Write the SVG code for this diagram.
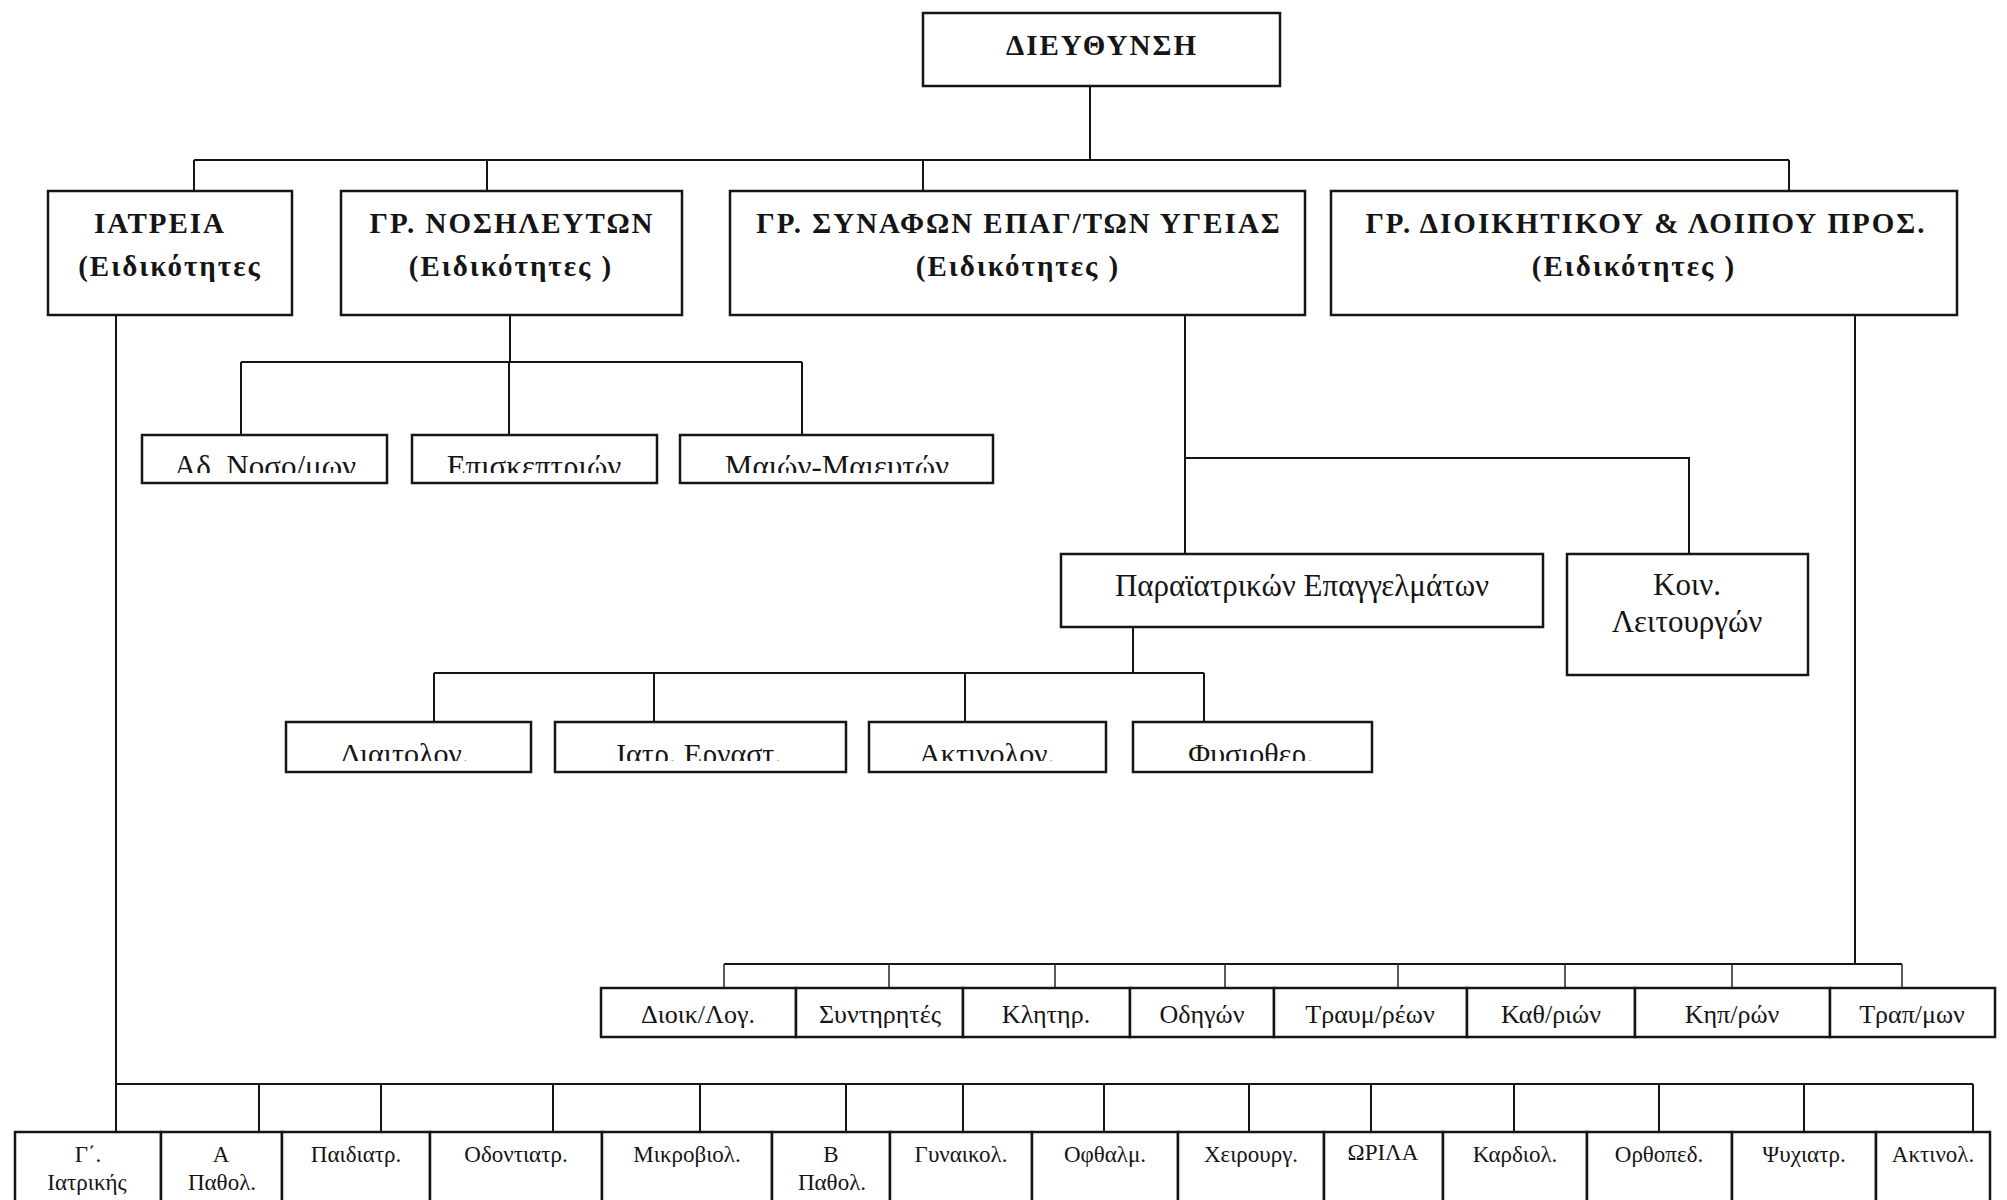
<svg xmlns="http://www.w3.org/2000/svg" width="2007" height="1200" viewBox="0 0 2007 1200">
<style>
.bx{fill:#fff;stroke:#151515;stroke-width:2.5}
.ln{fill:none;stroke:#151515;stroke-width:2}
.thin{fill:none;stroke:#333;stroke-width:1.6}
text{font-family:"Liberation Serif","Times New Roman",serif;fill:#151515;text-anchor:middle}
.hd{font-size:29px;font-weight:bold;letter-spacing:2px}
.t31{font-size:31px}
.t30{font-size:30px}
.t26{font-size:26px}
.t23{font-size:23px}
</style>
<defs>
<clipPath id="clipRow2"><rect x="0" y="400" width="2007" height="73"/></clipPath>
<clipPath id="clipRow3"><rect x="0" y="700" width="2007" height="61"/></clipPath>
</defs>
<rect x="0" y="0" width="2007" height="1200" fill="#fff"/>

<g id="connectors">
<path class="ln" d="M1090 86V160M194 160H1789M194 160V192M487 160V192M923 160V192M1789 160V192"/>
<path class="ln" d="M510 315V362M241 362H802M241 362V435M509 362V435M802 362V435"/>
<path class="ln" d="M1185 315V554M1185 458H1689V554"/>
<path class="ln" d="M1133 627V673M434 673H1204M434 673V722M654 673V722M965 673V722M1204 673V722"/>
<path class="ln" d="M1855 315V964M724 964H1902"/>
<path class="thin" d="M724 964V988M889 964V988M1055 964V988M1225 964V988M1398 964V988M1565 964V988M1732 964V988M1902 964V988"/>
<path class="ln" d="M116 315V1132M116 1084H1973M259 1084V1132M381 1084V1132M553 1084V1132M700 1084V1132M846 1084V1132M963 1084V1132M1104 1084V1132M1249 1084V1132M1371 1084V1132M1514 1084V1132M1659 1084V1132M1804 1084V1132M1973 1084V1132"/>
</g>

<g id="n-dieythynsh"><rect class="bx" x="923" y="13" width="357" height="73"/><text class="hd" x="1102" y="55">ΔΙΕΥΘΥΝΣΗ</text></g>

<g id="n-iatreia"><rect class="bx" x="48" y="191" width="244" height="124"/><text class="hd" x="160" y="233">ΙΑΤΡΕΙΑ</text><text class="hd" x="170" y="276">(Ειδικότητες</text></g>
<g id="n-nosileyton"><rect class="bx" x="341" y="191" width="341" height="124"/><text class="hd" x="512" y="233">ΓΡ. ΝΟΣΗΛΕΥΤΩΝ</text><text class="hd" x="511" y="276">(Ειδικότητες )</text></g>
<g id="n-synafon"><rect class="bx" x="730" y="191" width="575" height="124"/><text class="hd" x="1019" y="233">ΓΡ. ΣΥΝΑΦΩΝ ΕΠΑΓ/ΤΩΝ ΥΓΕΙΑΣ</text><text class="hd" x="1018" y="276">(Ειδικότητες )</text></g>
<g id="n-dioikitikoy"><rect class="bx" x="1331" y="191" width="626" height="124"/><text class="hd" x="1646" y="233">ΓΡ. ΔΙΟΙΚΗΤΙΚΟΥ &amp; ΛΟΙΠΟΥ ΠΡΟΣ.</text><text class="hd" x="1634" y="276">(Ειδικότητες )</text></g>

<g id="n-adnosomon"><rect class="bx" x="142" y="435" width="245" height="48"/><text class="t31" x="265" y="477" clip-path="url(#clipRow2)">Αδ. Νοσο/μων</text></g>
<g id="n-episkeptrion"><rect class="bx" x="412" y="435" width="245" height="48"/><text class="t31" x="534" y="477" clip-path="url(#clipRow2)">Επισκεπτριών</text></g>
<g id="n-maion"><rect class="bx" x="680" y="435" width="313" height="48"/><text class="t31" x="837" y="477" clip-path="url(#clipRow2)">Μαιών-Μαιευτών</text></g>

<g id="n-paraiatrikon"><rect class="bx" x="1061" y="554" width="482" height="73"/><text class="t31" x="1302" y="596">Παραϊατρικών Επαγγελμάτων</text></g>
<g id="n-koin"><rect class="bx" x="1567" y="554" width="241" height="121"/><text class="t31" x="1687" y="595">Κοιν.</text><text class="t31" x="1687" y="632">Λειτουργών</text></g>

<g id="n-diaitolog"><rect class="bx" x="286" y="722" width="245" height="50"/><text class="t30" x="405" y="764" clip-path="url(#clipRow3)">Διαιτολογ.</text></g>
<g id="n-iatrergast"><rect class="bx" x="555" y="722" width="291" height="50"/><text class="t30" x="699" y="764" clip-path="url(#clipRow3)">Ιατρ. Εργαστ.</text></g>
<g id="n-aktinolog"><rect class="bx" x="869" y="722" width="237" height="50"/><text class="t30" x="987" y="764" clip-path="url(#clipRow3)">Ακτινολογ.</text></g>
<g id="n-fysiother"><rect class="bx" x="1133" y="722" width="239" height="50"/><text class="t30" x="1251" y="764" clip-path="url(#clipRow3)">Φυσιοθερ.</text></g>

<g id="n-dioiklog"><rect class="bx" x="601" y="988" width="195" height="49"/><text class="t26" x="698" y="1023">Διοικ/Λογ.</text></g>
<g id="n-syntirites"><rect class="bx" x="796" y="988" width="167" height="49"/><text class="t26" x="880" y="1023">Συντηρητές</text></g>
<g id="n-klitir"><rect class="bx" x="963" y="988" width="167" height="49"/><text class="t26" x="1046" y="1023">Κλητηρ.</text></g>
<g id="n-odigon"><rect class="bx" x="1130" y="988" width="144" height="49"/><text class="t26" x="1202" y="1023">Οδηγών</text></g>
<g id="n-traymreon"><rect class="bx" x="1274" y="988" width="193" height="49"/><text class="t26" x="1370" y="1023">Τραυμ/ρέων</text></g>
<g id="n-kathrion"><rect class="bx" x="1467" y="988" width="168" height="49"/><text class="t26" x="1551" y="1023">Καθ/ριών</text></g>
<g id="n-kiproon"><rect class="bx" x="1635" y="988" width="195" height="49"/><text class="t26" x="1732" y="1023">Κηπ/ρών</text></g>
<g id="n-trapmon"><rect class="bx" x="1830" y="988" width="165" height="49"/><text class="t26" x="1912" y="1023">Τραπ/μων</text></g>

<g id="n-giatrikis"><rect class="bx" x="15" y="1132" width="146" height="80"/><text class="t23" x="88" y="1162">Γ΄.</text><text class="t23" x="87" y="1190">Ιατρικής</text></g>
<g id="n-apathol"><rect class="bx" x="161" y="1132" width="121" height="80"/><text class="t23" x="221" y="1162">Α</text><text class="t23" x="222" y="1190">Παθολ.</text></g>
<g id="n-paidiatr"><rect class="bx" x="282" y="1132" width="148" height="80"/><text class="t23" x="356" y="1162">Παιδιατρ.</text></g>
<g id="n-odontiatr"><rect class="bx" x="430" y="1132" width="172" height="80"/><text class="t23" x="516" y="1162">Οδοντιατρ.</text></g>
<g id="n-mikrobiol"><rect class="bx" x="602" y="1132" width="170" height="80"/><text class="t23" x="687" y="1162">Μικροβιολ.</text></g>
<g id="n-bpathol"><rect class="bx" x="772" y="1132" width="118" height="80"/><text class="t23" x="831" y="1162">Β</text><text class="t23" x="832" y="1190">Παθολ.</text></g>
<g id="n-gynaikol"><rect class="bx" x="890" y="1132" width="142" height="80"/><text class="t23" x="961" y="1162">Γυναικολ.</text></g>
<g id="n-ofthalm"><rect class="bx" x="1032" y="1132" width="146" height="80"/><text class="t23" x="1105" y="1162">Οφθαλμ.</text></g>
<g id="n-cheiroyrg"><rect class="bx" x="1178" y="1132" width="146" height="80"/><text class="t23" x="1251" y="1162">Χειρουργ.</text></g>
<g id="n-orila"><rect class="bx" x="1324" y="1132" width="119" height="80"/><text class="t23" x="1383" y="1160">ΩΡΙΛΑ</text></g>
<g id="n-kardiol"><rect class="bx" x="1443" y="1132" width="144" height="80"/><text class="t23" x="1515" y="1162">Καρδιολ.</text></g>
<g id="n-orthoped"><rect class="bx" x="1587" y="1132" width="145" height="80"/><text class="t23" x="1659" y="1162">Ορθοπεδ.</text></g>
<g id="n-psychiatr"><rect class="bx" x="1732" y="1132" width="144" height="80"/><text class="t23" x="1804" y="1162">Ψυχιατρ.</text></g>
<g id="n-aktinol"><rect class="bx" x="1876" y="1132" width="114" height="80"/><text class="t23" x="1933" y="1162">Ακτινολ.</text></g>
</svg>
